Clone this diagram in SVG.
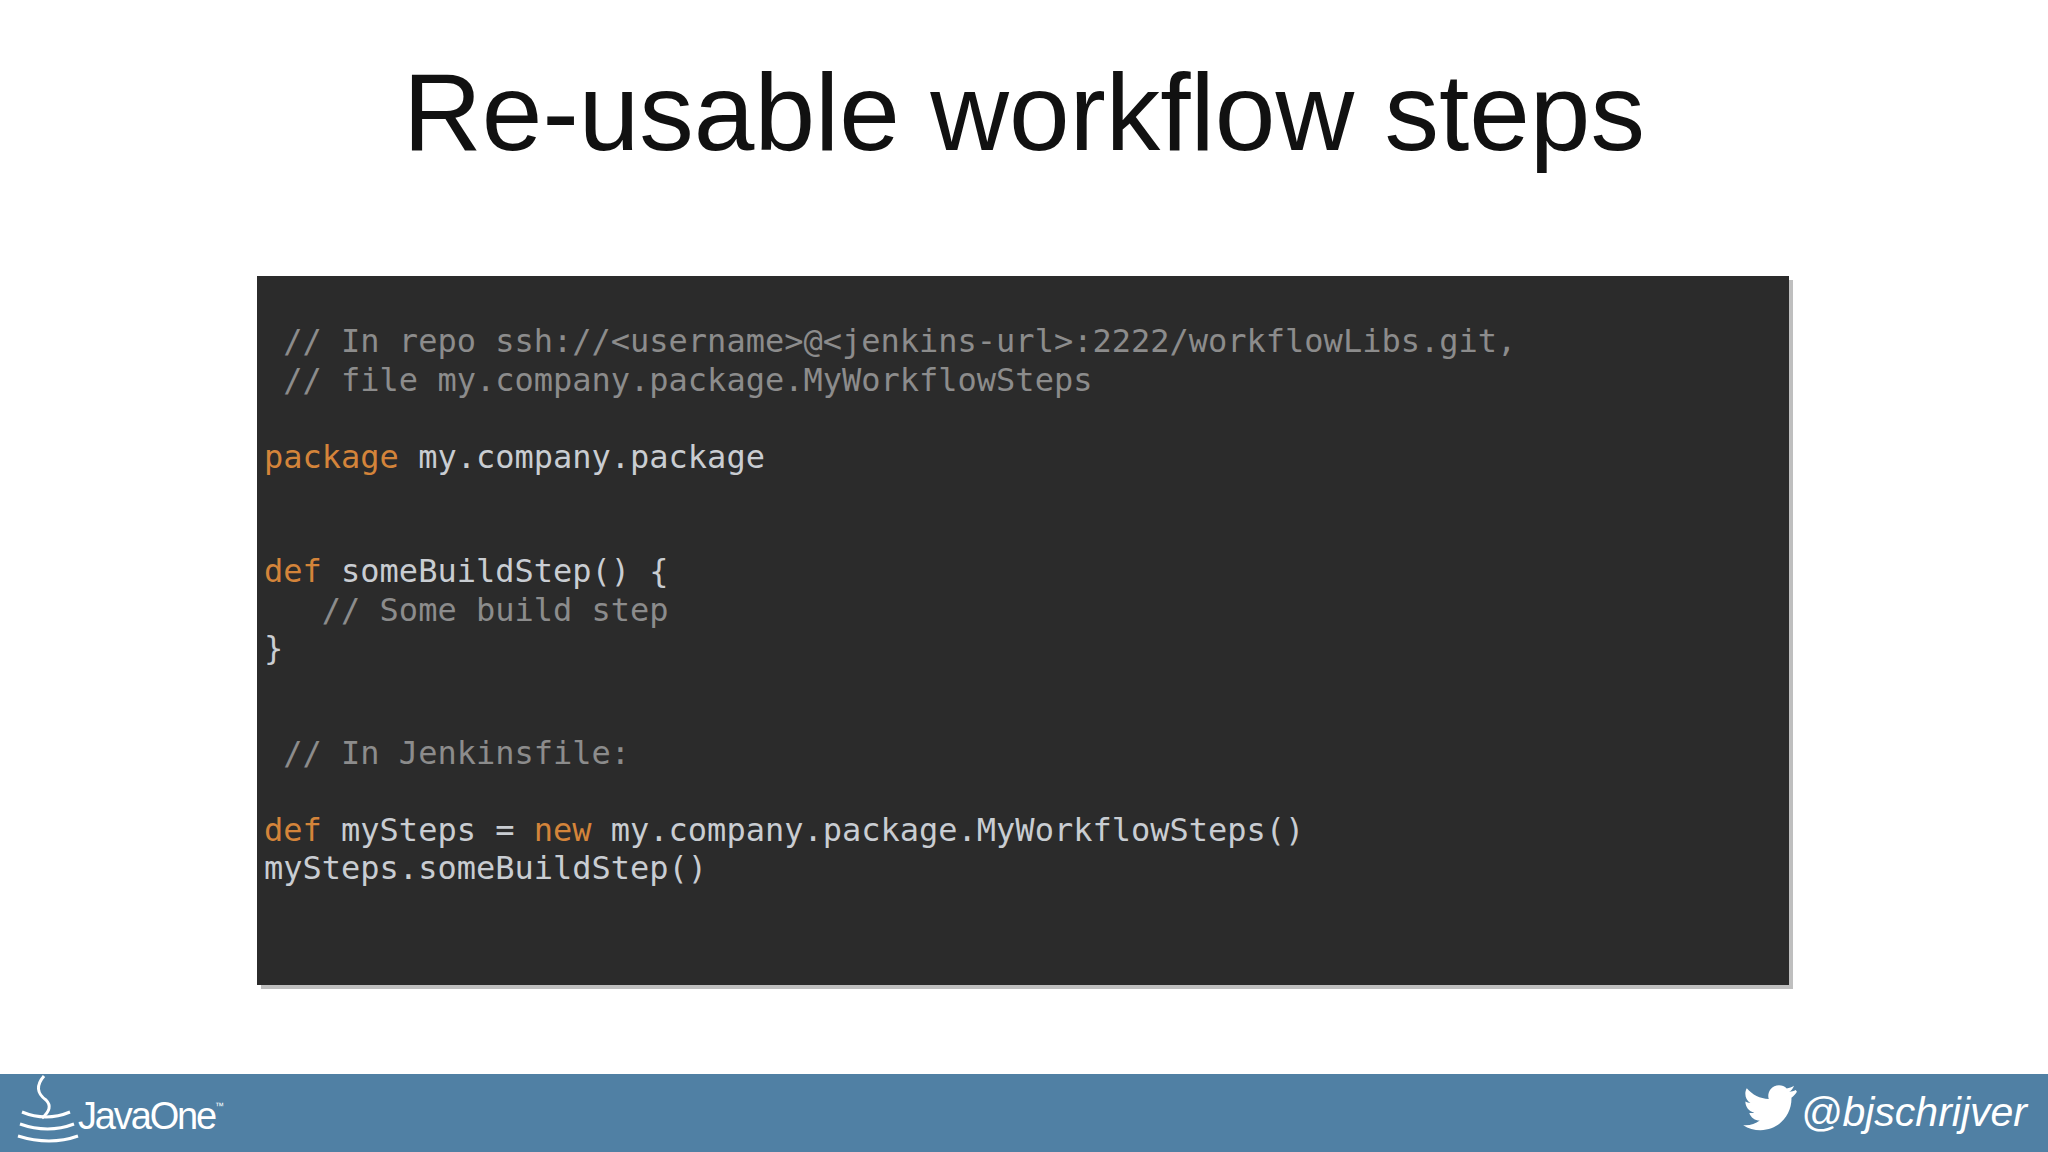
<svg xmlns="http://www.w3.org/2000/svg" width="2048" height="1152" viewBox="0 0 2048 1152">
<style>
.code{font-family:"DejaVu Sans Mono","Liberation Mono",monospace;font-size:32px;white-space:pre}
.c{fill:#8c8c8c}.k{fill:#d4843a}.t{fill:#c9cdd2}
</style>
<rect width="2048" height="1152" fill="#fff"/>
<text x="1024" y="150" text-anchor="middle" font-family="Liberation Sans, Arial, sans-serif" font-size="109" fill="#111">Re-usable workflow steps</text>
<g id="codebox">
<rect x="261" y="280" width="1532" height="709" fill="#000" opacity="0.25"/>
<rect x="257" y="276" width="1532" height="709" fill="#2b2b2b"/>
<text class="code" xml:space="preserve">
<tspan x="264" y="352" class="c"> // In repo ssh://&lt;username&gt;@&lt;jenkins-url&gt;:2222/workflowLibs.git,</tspan>
<tspan x="264" y="391" class="c"> // file my.company.package.MyWorkflowSteps</tspan>
<tspan x="264" y="468"><tspan class="k">package</tspan><tspan class="t"> my.company.package</tspan></tspan>
<tspan x="264" y="582"><tspan class="k">def</tspan><tspan class="t"> someBuildStep() {</tspan></tspan>
<tspan x="264" y="621" class="c">   // Some build step</tspan>
<tspan x="264" y="659" class="t">}</tspan>
<tspan x="264" y="764" class="c"> // In Jenkinsfile:</tspan>
<tspan x="264" y="841"><tspan class="k">def</tspan><tspan class="t"> mySteps = </tspan><tspan class="k">new</tspan><tspan class="t"> my.company.package.MyWorkflowSteps()</tspan></tspan>
<tspan x="264" y="879" class="t">mySteps.someBuildStep()</tspan>
</text>
</g>
<g id="footer">
<rect x="0" y="1074" width="2048" height="78" fill="#5080a4"/>
<g fill="none" stroke="#fff" stroke-width="3">
<path d="M44 1076 q-12 14 2 24 q8 8 -4 18"/>
<path d="M22 1112 q24 10 48 0"/>
<path d="M20 1124 q28 10 54 0"/>
<path d="M18 1136 q32 10 60 0"/>
</g>
<text x="78" y="1129" font-family="Liberation Sans, Arial, sans-serif" font-size="38" fill="#fff" textLength="146">JavaOne<tspan font-size="9" dy="-20">™</tspan></text>
<g transform="translate(1790 1090) scale(0.72) translate(-1790 -1090)">
<path d="M1790 1090 c-3 1.5-6 2-9 2.5 c3-2 5.5-5 6.5-8.5 c-3 2-6.5 3-10 4 c-6-6.5-17-6-22.5 1 c-3 4-4 9-2.5 13.5 c-12-0.5-23-6-30.5-15 c-4 7-2 16 5 20.5 c-2.5 0-5-0.8-7-2 c0 7.5 5 14 12.5 15.5 c-2.3 0.6-4.7 0.7-7 0.3 c2 6.3 8 10.5 14.5 10.7 c-6.5 5-15 7.3-23 6.3 c7 4.5 15.5 7 24 7 c28 0 44-24 43-45 c3-2.2 5.6-5 7.6-8.3z" fill="#fff" transform="translate(8 0)"/>
</g>
<text x="2027" y="1126" text-anchor="end" font-family="Liberation Sans, Arial, sans-serif" font-style="italic" font-size="41" fill="#fff">@bjschrijver</text>
</g>
</svg>
